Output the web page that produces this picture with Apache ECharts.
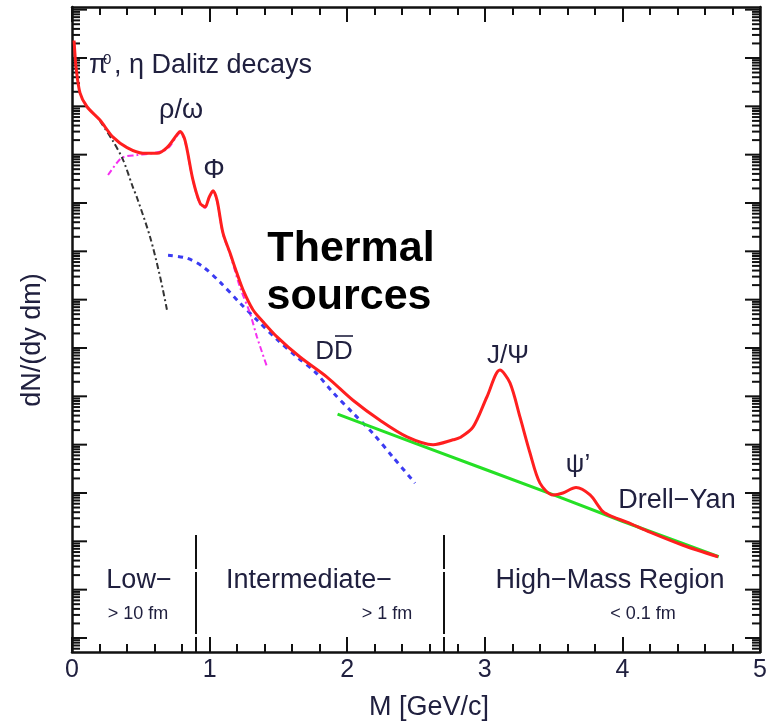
<!DOCTYPE html>
<html>
<head>
<meta charset="utf-8">
<script src="https://cdn.jsdelivr.net/npm/echarts@6/dist/echarts.min.js"></script>
<style>
  html, body { margin: 0; padding: 0; background: #ffffff; }
  #chart { width: 777px; height: 722px; }
</style>
</head>
<body>
<div id="chart"></div>
<script>
// Dilepton invariant-mass spectrum: total yield and its contributing sources.

// Axis ranges
const massTicks = ['0', '1', '2', '3', '4', '5'];
const M_MIN = 0, M_MAX = 5;
const Y_MIN = 0.513, Y_MAX = 1.135e13;

// Total spectrum (red)
const totalMass  = [0.015, 0.022, 0.029, 0.058, 0.109, 0.203, 0.298, 0.40, 0.516, 0.618,
                    0.69, 0.763, 0.785, 0.821, 0.879, 0.93, 0.967, 0.996, 1.025, 1.054,
                    1.097, 1.148, 1.199, 1.243, 1.315, 1.388, 1.49, 1.657, 1.853, 2.042,
                    2.238, 2.435, 2.624, 2.769, 2.82, 2.914, 3.016, 3.11, 3.183, 3.256,
                    3.328, 3.401, 3.496, 3.568, 3.663, 3.765, 3.859, 3.932, 4.033, 4.20,
                    4.44, 4.695];
const totalYield = [2.3e12, 1.15e12, 6.5e11, 1.9e11, 9.8e10, 5.2e10, 2.3e10, 1.4e10, 1.07e10, 1.07e10,
                    1.4e10, 2.6e10, 3.0e10, 2.0e10, 3.0e9, 1.0e9, 8.3e8, 1.3e9, 1.8e9, 1.15e9,
                    2.4e8, 9.3e7, 3.5e7, 1.6e7, 6.2e6, 3.5e6, 1.7e6, 6.5e5, 2.5e5, 8.3e4,
                    3.2e4, 1.45e4, 1.0e4, 1.26e4, 1.4e4, 2.3e4, 9.8e4, 3.5e5, 1.9e5, 3.7e4,
                    6.8e3, 1.6e3, 9.1e2, 1.0e3, 1.3e3, 9.1e2, 4.1e2, 3.2e2, 2.5e2, 1.55e2,
                    83, 48];

// Drell-Yan (green)
const drellYanMass  = [1.93, 2.5, 3.0, 3.5, 4.0, 4.7];
const drellYanYield = [4.3e4, 1.05e4, 3.1e3, 9.1e2, 2.6e2, 48];

// Open charm, D Dbar (blue dashed)
const charmMass  = [0.698, 0.836, 0.952, 1.076, 1.221, 1.344, 1.49, 1.635, 1.766, 1.897,
                    2.042, 2.188, 2.333, 2.493];
const charmYield = [8.3e7, 7.2e7, 4.8e7, 2.3e7, 8.5e6, 3.8e6, 1.5e6, 6.5e5, 3.2e5, 1.2e5,
                    4.5e4, 1.7e4, 5.5e3, 1.6e3];

// Vector mesons rho/omega/phi (magenta dash-dot)
const vectorMass  = [0.262, 0.327, 0.371, 0.472, 0.567, 0.69, 0.763, 0.785, 0.821, 0.879,
                     0.93, 0.967, 0.996, 1.025, 1.054, 1.097, 1.148, 1.221, 1.294, 1.344,
                     1.417];
const vectorYield = [3.8e9, 6.8e9, 8.9e9, 9.8e9, 1.05e10, 1.3e10, 2.45e10, 2.8e10, 1.9e10, 2.9e9,
                     9.5e8, 8.0e8, 1.25e9, 1.7e9, 1.1e9, 2.3e8, 8.9e7, 1.8e7, 5.2e6, 1.7e6,
                     4.1e5];

// pi0, eta Dalitz decays (black dash-dot)
const dalitzMass  = [0.203, 0.298, 0.371, 0.443, 0.472, 0.567, 0.64, 0.69];
const dalitzYield = [5.0e10, 1.9e10, 7.8e9, 2.1e9, 1.3e9, 2.0e8, 3.0e7, 6.2e6];

// Boundaries between the mass regions
const regionBounds = [0.9, 2.7];
const regionBoundTop = 135;

// Logarithmic tick marks for the yield axis (decades plus 2..9 sub-ticks)
const yTicks = [];
for (let e = -1; e <= 13; e++) {
  for (let m = 1; m <= 9; m++) {
    const v = m * Math.pow(10, e);
    if (v >= Y_MIN && v <= Y_MAX) yTicks.push([0, v, m === 1 ? 15 : 8]);
  }
}

const zip = (xs, ys) => xs.map((x, i) => [x, ys[i]]);

const ink = '#20203f';
const font = (size, weight) => `${weight || 'normal'} ${size}px "Liberation Sans", Arial, Helvetica, sans-serif`;
function text(str, x, y, size, extra) {
  const o = extra || {};
  return {
    type: 'text', x: x, y: y, silent: true,
    rotation: o.rotation || 0,
    scaleX: o.scaleX || 1, scaleY: o.scaleY || 1,
    z: 100,
    style: {
      text: str,
      font: font(size, o.weight),
      fill: o.color || ink,
      align: o.align || 'center',
      verticalAlign: 'middle'
    }
  };
}

const chart = echarts.init(document.getElementById('chart'), null, { renderer: 'canvas' });

const tickStyle = { color: '#111', width: 2 };

chart.setOption({
  animation: false,
  backgroundColor: '#ffffff',
  grid: { left: 72, right: 17, top: 7, bottom: 70, containLabel: false },
  xAxis: [
    {
      type: 'value', min: M_MIN, max: M_MAX, interval: 1, position: 'bottom',
      axisLine: { onZero: false, lineStyle: { color: '#111', width: 2.5 } },
      axisTick: { inside: true, length: 15, lineStyle: tickStyle },
      minorTick: { show: true, splitNumber: 5, length: 8, lineStyle: tickStyle },
      splitLine: { show: false }, minorSplitLine: { show: false },
      axisLabel: {
        margin: 6, fontSize: 25, color: ink, fontFamily: '"Liberation Sans", Arial, sans-serif',
        formatter: v => massTicks[Math.round(v)]
      }
    },
    {
      type: 'value', min: M_MIN, max: M_MAX, interval: 1, position: 'top',
      axisLine: { onZero: false, lineStyle: { color: '#111', width: 2.5 } },
      axisTick: { inside: true, length: 15, lineStyle: tickStyle },
      minorTick: { show: true, splitNumber: 5, length: 8, lineStyle: tickStyle },
      splitLine: { show: false }, minorSplitLine: { show: false },
      axisLabel: { show: false }
    }
  ],
  yAxis: [
    {
      type: 'log', logBase: 10, min: Y_MIN, max: Y_MAX, position: 'left',
      axisLine: { show: true, onZero: false, lineStyle: { color: '#111', width: 2.5 } },
      axisTick: { show: false }, axisLabel: { show: false }, splitLine: { show: false }
    },
    {
      type: 'log', logBase: 10, min: Y_MIN, max: Y_MAX, position: 'right',
      axisLine: { show: true, onZero: false, lineStyle: { color: '#111', width: 2.5 } },
      axisTick: { show: false }, axisLabel: { show: false }, splitLine: { show: false }
    }
  ],
  series: [
    {
      name: 'yTicks', type: 'custom', coordinateSystem: 'cartesian2d',
      xAxisIndex: 0, yAxisIndex: 0, silent: true, clip: false, z: 5,
      encode: { x: 0, y: 1 },
      data: yTicks,
      renderItem: function (params, api) {
        const v = api.value(1);
        const len = api.value(2);
        const l = api.coord([M_MIN, v]);
        const r = api.coord([M_MAX, v]);
        return {
          type: 'group',
          children: [
            { type: 'line', shape: { x1: l[0], y1: l[1], x2: l[0] + len, y2: l[1] },
              style: { stroke: '#111', lineWidth: 2 } },
            { type: 'line', shape: { x1: r[0], y1: r[1], x2: r[0] - len, y2: r[1] },
              style: { stroke: '#111', lineWidth: 2 } }
          ]
        };
      }
    },
    {
      name: 'D Dbar', type: 'line', data: zip(charmMass, charmYield),
      showSymbol: false, smooth: 0.3, silent: true, z: 6,
      lineStyle: { color: '#3b3bf2', width: 3, type: [5, 5] }
    },
    {
      name: 'Drell-Yan', type: 'line', data: zip(drellYanMass, drellYanYield),
      showSymbol: false, silent: true, z: 7,
      lineStyle: { color: '#25e025', width: 3 },
      markLine: {
        silent: true, symbol: ['none', 'none'], label: { show: false },
        lineStyle: { color: '#111', width: 2, type: [34, 3, 62, 3] },
        data: regionBounds.map(b => [{ coord: [b, regionBoundTop] }, { coord: [b, Y_MIN] }])
      }
    },
    {
      name: 'rho/omega/phi', type: 'line', data: zip(vectorMass, vectorYield),
      showSymbol: false, smooth: 0.3, silent: true, z: 8,
      lineStyle: { color: '#f530f0', width: 2, type: [6, 3, 2, 3] }
    },
    {
      name: 'Dalitz', type: 'line', data: zip(dalitzMass, dalitzYield),
      showSymbol: false, smooth: 0.3, silent: true, z: 8,
      lineStyle: { color: '#333333', width: 2, type: [6, 3, 2, 3] }
    },
    {
      name: 'total', type: 'line', data: zip(totalMass, totalYield),
      showSymbol: false, smooth: 0.3, silent: true, z: 10,
      lineStyle: { color: '#ff1f1f', width: 3 }
    }
  ],
  graphic: [
    text('\u03c0', 89, 66, 27, { align: 'left' }),
    text('0', 103, 60, 15, { align: 'left' }),
    text(', \u03b7 Dalitz decays', 114, 66, 27, { align: 'left' }),
    text('\u03c1/\u03c9', 181, 111, 27),
    text('\u03a6', 214, 171, 27),
    text('Thermal', 351, 249, 43, { weight: 'bold', color: '#000' }),
    text('sources', 349, 297, 43, { weight: 'bold', color: '#000' }),
    text('DD', 334, 352, 26),
    { type: 'line', silent: true, z: 100,
      shape: { x1: 335, y1: 336, x2: 353, y2: 336 },
      style: { stroke: ink, lineWidth: 1.6 } },
    text('J/\u03a8', 508, 356, 26),
    text('\u03c8\u2019', 578, 465, 26),
    text('Drell\u2212Yan', 677, 501, 27),
    text('Low\u2212', 139, 581, 27),
    text('Intermediate\u2212', 309, 581, 27),
    text('High\u2212Mass Region', 610, 581, 27),
    text('> 10 fm', 138, 614, 18),
    text('> 1 fm', 387, 614, 18),
    text('< 0.1 fm', 643, 614, 18),
    text('M [GeV/c]', 429, 708, 27),
    text('dN/(dy dm)', 33, 340, 27, { rotation: Math.PI / 2 })
  ]
});
</script>
</body>
</html>
